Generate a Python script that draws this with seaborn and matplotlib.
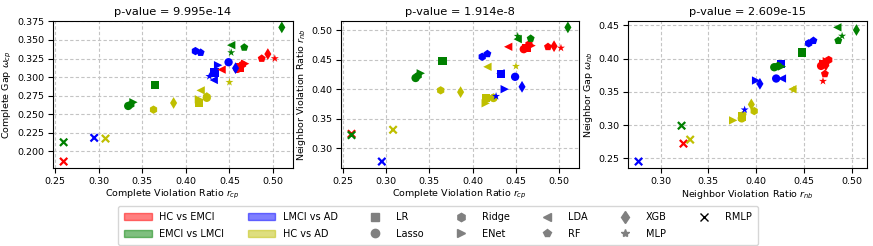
import matplotlib.pyplot as plt
import numpy as np
import pandas as pd
import seaborn as sns
from matplotlib.patches import Patch
from matplotlib.lines import Line2D

# groups / models
groups = ['HC vs EMCI', 'EMCI vs LMCI', 'LMCI vs AD', 'HC vs AD']
colors = ['r', 'g', 'b', 'y']
models = ['LR', 'Lasso', 'Ridge', 'ENet', 'LDA', 'RF', 'XGB', 'MLP', 'RMLP']
markers = ['s', 'o', 'h', '>', '<', 'p', 'd', '*', 'x']

# complete violation ratio r_cp
r_cp = {
    'HC vs EMCI':   [0.462, 0.459, 0.465, 0.468, 0.441, 0.487, 0.494, 0.502, 0.260],
    'EMCI vs LMCI': [0.365, 0.334, 0.337, 0.340, 0.452, 0.467, 0.510, 0.452, 0.260],
    'LMCI vs AD':   [0.433, 0.449, 0.411, 0.437, 0.432, 0.417, 0.457, 0.427, 0.295],
    'HC vs AD':     [0.415, 0.424, 0.363, 0.415, 0.417, 0.424, 0.386, 0.450, 0.308],
}
# complete gap w_cp
w_cp = {
    'HC vs EMCI':   [0.313, 0.311, 0.317, 0.318, 0.310, 0.325, 0.331, 0.325, 0.186],
    'EMCI vs LMCI': [0.289, 0.261, 0.263, 0.266, 0.343, 0.340, 0.367, 0.333, 0.212],
    'LMCI vs AD':   [0.306, 0.320, 0.335, 0.316, 0.296, 0.333, 0.312, 0.301, 0.218],
    'HC vs AD':     [0.265, 0.272, 0.256, 0.270, 0.282, 0.274, 0.265, 0.293, 0.217],
}
# neighbor violation ratio r_nb
r_nb = {
    'HC vs EMCI':   [0.470, 0.468, 0.476, 0.474, 0.472, 0.472, 0.473, 0.470, 0.324],
    'EMCI vs LMCI': [0.448, 0.419, 0.423, 0.427, 0.485, 0.486, 0.505, 0.490, 0.322],
    'LMCI vs AD':   [0.426, 0.421, 0.455, 0.400, 0.427, 0.460, 0.404, 0.388, 0.277],
    'HC vs AD':     [0.385, 0.385, 0.398, 0.376, 0.438, 0.386, 0.395, 0.439, 0.331],
}
# neighbor gap w_nb
w_nb = {
    'HC vs EMCI':   [0.392, 0.389, 0.398, 0.396, 0.394, 0.377, 0.390, 0.366, 0.272],
    'EMCI vs LMCI': [0.409, 0.387, 0.389, 0.388, 0.447, 0.427, 0.443, 0.434, 0.299],
    'LMCI vs AD':   [0.392, 0.370, 0.423, 0.367, 0.370, 0.427, 0.362, 0.323, 0.245],
    'HC vs AD':     [0.313, 0.310, 0.321, 0.307, 0.354, 0.315, 0.331, 0.353, 0.278],
}
p_values = ['9.995e-14', '1.914e-8', '2.609e-15']

rows = []
for g in groups:
    for i, m in enumerate(models):
        rows.append({'group': g, 'model': m, 'r_cp': r_cp[g][i], 'w_cp': w_cp[g][i],
                     'r_nb': r_nb[g][i], 'w_nb': w_nb[g][i]})
df = pd.DataFrame(rows)

palette = dict(zip(groups, colors))
plt.rcParams['font.size'] = 6.8

fig = plt.figure(figsize=(8.73, 2.46), dpi=100)
axes = [fig.add_axes([0.0604, 0.316, 0.2749, 0.600]),
        fig.add_axes([0.3903, 0.316, 0.2726, 0.600]),
        fig.add_axes([0.7190, 0.316, 0.2745, 0.600])]

panels = [('r_cp', 'w_cp', r'Complete Violation Ratio $r_{cp}$', r'Complete Gap $\omega_{cp}$'),
          ('r_cp', 'r_nb', r'Complete Violation Ratio $r_{cp}$', r'Neighbor Violation Ratio $r_{nb}$'),
          ('r_nb', 'w_nb', r'Neighbor Violation Ratio $r_{nb}$', r'Neighbor Gap $\omega_{nb}$')]

for ax, (xc, yc, xl, yl), pv in zip(axes, panels, p_values):
    ax.set_axisbelow(True)
    ax.grid(True, linestyle=(0, (3, 2)), color='#c4c4c4', linewidth=0.8)
    for m, mk in zip(models, markers):
        sub = df[df['model'] == m]
        if mk == 'x':
            sns.scatterplot(data=sub, x=xc, y=yc, hue='group', palette=palette,
                            marker=mk, s=28, linewidth=1.6, legend=False, ax=ax)
        else:
            sns.scatterplot(data=sub, x=xc, y=yc, hue='group', palette=palette,
                            marker=mk, s=36, linewidth=0, legend=False, ax=ax)
    ax.set_xlabel(xl, labelpad=2)
    ax.set_ylabel(yl, labelpad=2)
    ax.set_title('p-value = ' + pv, fontsize=8.2, pad=4)
    ax.tick_params(labelsize=6.8, pad=2.5)

axes[0].set_yticks([0.200, 0.225, 0.250, 0.275, 0.300, 0.325, 0.350, 0.375])

handles = [Patch(color=c, alpha=0.5, label=g) for g, c in zip(groups, colors)]
for m, mk in zip(models, markers):
    handles.append(Line2D([], [], linestyle='', marker=mk, markersize=6,
                          color='black' if mk == 'x' else 'gray', label=m))
fig.legend(handles=handles, loc='upper center', bbox_to_anchor=(0.502, 0.182),
           ncol=7, fontsize=7, columnspacing=2.4, handlelength=2.8,
           borderpad=0.6, labelspacing=0.7)

fig.savefig('out.png', dpi=100)
